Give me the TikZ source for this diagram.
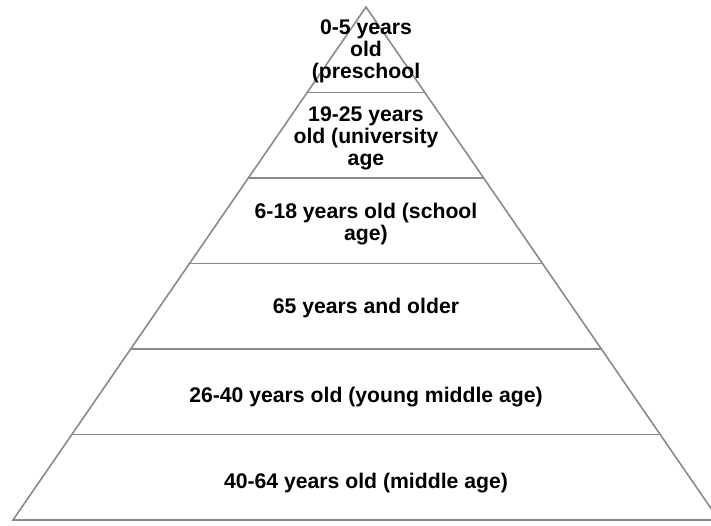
\documentclass[tikz,border=0pt]{standalone}
\usepackage{fontspec}
\setmainfont{Liberation Sans}
\usetikzlibrary{calc}
\definecolor{edgegray}{HTML}{8A8A8A}
\tikzset{
  tier/.style={draw=edgegray, line width=1.6pt},
  label/.style={font=\fontsize{21.2}{22}\selectfont\bfseries, align=center, anchor=base, inner sep=0pt, text=black}
}
\begin{document}
\begin{tikzpicture}[x=1pt,y=-1pt]
\useasboundingbox (0,0) rectangle (711,525);
\coordinate (A) at (366,7);
\coordinate (L) at (13,520);
\coordinate (R) at (719,520);
\draw[tier, line join=miter] (L) -- (A) -- (R) -- cycle;
\foreach \k in {1,2,3,4,5}{
  \draw[tier] ($(A)!\k/6!(L)$) -- ($(A)!\k/6!(R)$);
}
\node[label] (t1) at (366,78) {0-5 years\\old\\(preschool};
\node[label] (t2) at (366,165) {19-25 years\\old (university\\age};
\node[label] (t3) at (366,240) {6-18 years old (school\\age)};
\node[label] (t4) at (366,313) {65 years and older};
\node[label] (t5) at (366,402) {26-40 years old (young middle age)};
\node[label] (t6) at (366,488) {40-64 years old (middle age)};
\end{tikzpicture}
\end{document}
